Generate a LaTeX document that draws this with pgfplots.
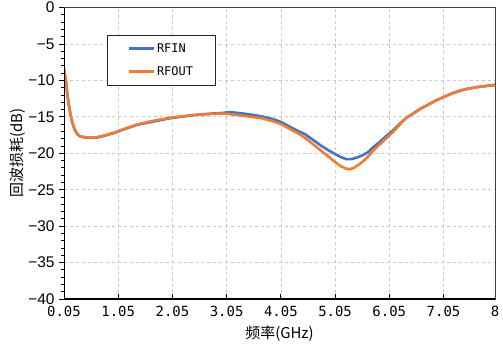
\documentclass[border=0pt]{standalone}
\usepackage{fontspec}
\usepackage{pgfplots}
\pgfplotsset{compat=1.18}
\setmainfont{Noto Sans CJK SC}
\newfontfamily\monof{DejaVu Sans Mono}
\newfontfamily\arialf{Liberation Sans}
\definecolor{cblue}{HTML}{4472C4}
\definecolor{corange}{HTML}{ED7D31}
\definecolor{cgrid}{HTML}{C8C8C8}
\begin{document}
\begin{tikzpicture}
\useasboundingbox (-64bp,-48bp) rectangle (439bp,299bp);
\begin{axis}[
  scale only axis,
  width=431bp, height=291.5bp,
  xmin=0.05, xmax=8, ymin=-40, ymax=0,
  xtick={0.05,1.05,2.05,3.05,4.05,5.05,6.05,7.05,8},
  xticklabels={0.05,1.05,2.05,3.05,4.05,5.05,6.05,7.05,8},
  ytick={-40,-35,-30,-25,-20,-15,-10,-5,0},
  yticklabels={−40,−35,−30,−25,−20,−15,−10,−5,0},
  minor y tick num=4,
  xtick pos=bottom, ytick pos=left,
  xtick align=inside, ytick align=outside,
  major tick length=5bp, minor tick length=3bp,
  tick style={black, line width=0.8bp},
  x tick label style={font=\monof\fontsize{14}{16}\selectfont, yshift=-4bp},
  y tick label style={font=\arialf\fontsize{15.5}{17}\selectfont, xshift=-1bp},
  grid=major,
  major grid style={cgrid, dashed, line width=0.7bp},
  axis line style={black!75, line width=0.8bp},
  xlabel={频率(GHz)},
  ylabel={回波损耗(dB)},
  label style={font=\fontsize{15}{17}\selectfont},
  xlabel style={yshift=-2bp},
  ylabel style={yshift=-4bp},
  legend cell align=left,
  legend style={at={(0.0998,0.9057)}, anchor=north west, draw=black!85, line width=0.8bp,
    font=\monof\fontsize{12}{14}\selectfont, inner xsep=20bp, inner ysep=6bp, row sep=9bp},
  legend image code/.code={\draw[#1, line width=2.6bp] (0bp,0bp) -- (25bp,0bp);},
]
\addplot[cblue, line width=2.6bp, line join=round] coordinates {
(0.05,-8.4) (0.08,-9.8) (0.10,-11.1) (0.12,-12.4) (0.14,-13.4) (0.17,-14.7) (0.20,-15.7)
(0.25,-16.8) (0.30,-17.4) (0.35,-17.7) (0.45,-17.85) (0.55,-17.9) (0.65,-17.85) (0.80,-17.6)
(1.00,-17.15) (1.20,-16.6) (1.40,-16.1) (1.60,-15.8) (1.80,-15.5) (2.00,-15.2) (2.20,-15.0)
(2.40,-14.8) (2.60,-14.65) (2.80,-14.55) (3.00,-14.45) (3.10,-14.35) (3.30,-14.5) (3.50,-14.7)
(3.70,-14.95) (3.90,-15.3) (4.05,-15.7) (4.20,-16.3) (4.35,-16.9) (4.50,-17.4) (4.65,-18.2)
(4.80,-19.0) (4.95,-19.7) (5.05,-20.1) (5.15,-20.5) (5.25,-20.8) (5.35,-20.8) (5.45,-20.6)
(5.55,-20.3) (5.65,-19.9) (5.75,-19.2) (5.88,-18.4) (6.00,-17.6) (6.13,-16.8) (6.25,-15.9)
(6.37,-15.1) (6.50,-14.5) (6.62,-13.9) (6.75,-13.4) (6.90,-12.8) (7.05,-12.3) (7.20,-11.8)
(7.35,-11.4) (7.50,-11.15) (7.65,-10.95) (7.80,-10.8) (7.95,-10.65) (8.00,-10.6)
};
\addlegendentry{RFIN}
\addplot[corange, line width=2.6bp, line join=round] coordinates {
(0.05,-8.4) (0.08,-9.8) (0.10,-11.1) (0.12,-12.4) (0.14,-13.4) (0.17,-14.7) (0.20,-15.7)
(0.25,-16.8) (0.30,-17.4) (0.35,-17.7) (0.45,-17.8) (0.55,-17.85) (0.65,-17.8) (0.80,-17.55)
(1.00,-17.1) (1.20,-16.55) (1.40,-16.05) (1.60,-15.7) (1.80,-15.4) (2.00,-15.15) (2.20,-14.95)
(2.40,-14.8) (2.60,-14.7) (2.80,-14.6) (3.00,-14.55) (3.30,-14.8) (3.50,-15.0) (3.70,-15.2)
(3.90,-15.6) (4.05,-16.0) (4.20,-16.6) (4.35,-17.2) (4.50,-17.9) (4.65,-18.8) (4.80,-19.7)
(4.95,-20.6) (5.05,-21.2) (5.15,-21.75) (5.25,-22.1) (5.32,-22.2) (5.40,-22.0) (5.50,-21.5)
(5.60,-20.9) (5.70,-20.1) (5.80,-19.3) (5.90,-18.6) (6.00,-17.9) (6.13,-17.0) (6.25,-16.0)
(6.37,-15.1) (6.50,-14.5) (6.62,-13.95) (6.75,-13.4) (6.90,-12.8) (7.05,-12.3) (7.20,-11.85)
(7.35,-11.45) (7.50,-11.15) (7.65,-10.95) (7.80,-10.8) (7.95,-10.7) (8.00,-10.65)
};
\addlegendentry{RFOUT}
\draw[black, line width=1.5bp] (rel axis cs:0,1) -- (rel axis cs:0,0) -- (rel axis cs:1,0);
\end{axis}
\end{tikzpicture}
\end{document}
